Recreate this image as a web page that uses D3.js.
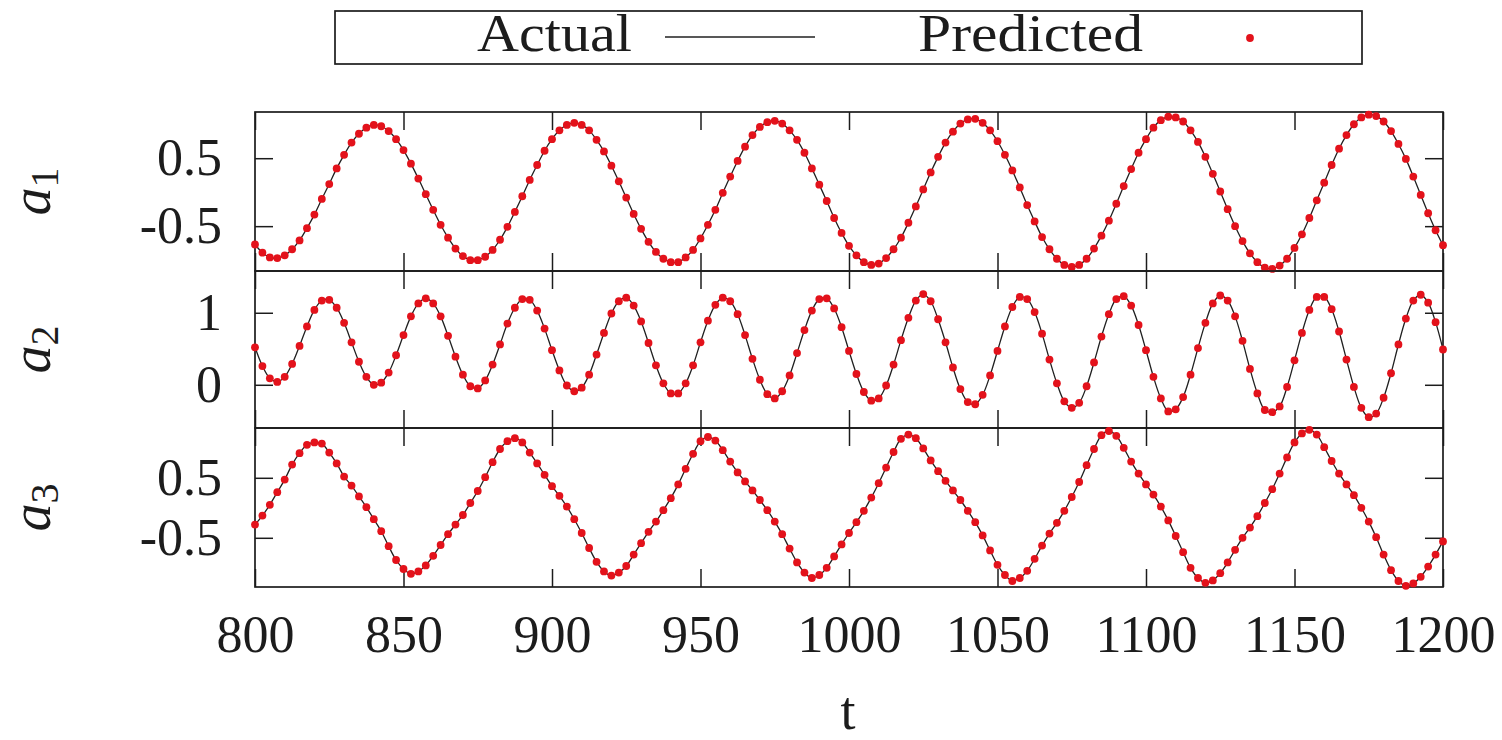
<!DOCTYPE html>
<html>
<head>
<meta charset="utf-8">
<script src="https://cdn.jsdelivr.net/npm/d3@7"></script>
<style>
  html, body { margin: 0; padding: 0; background: #ffffff; }
  svg { display: block; }
</style>
</head>
<body>
<svg id="chart" width="1502" height="740"></svg>
<script>
// Sampling of the three state variables: t = 800 ... 1200, every 2.5
const tStart = 800;
const tEnd = 1200;
const tStep = 2.5;

const xTickValues = [800, 850, 900, 950, 1000, 1050, 1100, 1150, 1200];

const a1Ticks = [-0.5, 0.5];
const a2Ticks = [0, 1];
const a3Ticks = [-0.5, 0.5];

const a1Values = [
  -0.77, -0.89, -0.96, -0.97, -0.93, -0.84, -0.71, -0.53, -0.33, -0.10,
   0.12,  0.35,  0.55,  0.73,  0.86,  0.95,  0.99,  0.97,  0.90,  0.78,
   0.62,  0.42,  0.20, -0.03, -0.26, -0.48, -0.67, -0.83, -0.94, -1.00,
  -1.00, -0.95, -0.85, -0.70, -0.51, -0.29, -0.06,  0.18,  0.40,  0.61,
   0.78,  0.91,  0.99,  1.02,  0.99,  0.91,  0.77,  0.60,  0.39,  0.16,
  -0.08, -0.32, -0.54, -0.73, -0.88, -0.98, -1.03, -1.03, -0.96, -0.85,
  -0.68, -0.48, -0.26, -0.01,  0.23,  0.46,  0.67,  0.84,  0.96,  1.03,
   1.05,  1.01,  0.91,  0.77,  0.58,  0.35,  0.11, -0.13, -0.38, -0.60,
  -0.79, -0.93, -1.03, -1.07, -1.05, -0.97, -0.84, -0.67, -0.45, -0.21,
   0.04,  0.29,  0.52,  0.73,  0.89,  1.01,  1.07,  1.08,  1.02,  0.91,
   0.75,  0.55,  0.32,  0.07, -0.19, -0.43, -0.66, -0.84, -0.98, -1.07,
  -1.10, -1.07, -0.98, -0.83, -0.64, -0.42, -0.17,  0.09,  0.34,  0.58,
   0.78,  0.95,  1.06,  1.11,  1.10,  1.04,  0.91,  0.74,  0.52,  0.27,
   0.01, -0.25, -0.50, -0.72, -0.90, -1.03, -1.11, -1.13, -1.08, -0.98,
  -0.82, -0.62, -0.38, -0.12,  0.14,  0.40,  0.64,  0.84,  1.00,  1.10,
   1.14,  1.12,  1.04,  0.90,  0.71,  0.49,  0.23, -0.04, -0.31, -0.56, -0.78
];

const a2Values = [
   0.52,  0.26,  0.09,  0.04,  0.11,  0.29,  0.54,  0.81,  1.04,  1.17,
   1.18,  1.07,  0.86,  0.59,  0.32,  0.11,  0.00,  0.03,  0.17,  0.41,
   0.69,  0.95,  1.13,  1.20,  1.13,  0.95,  0.68,  0.39,  0.14, -0.02,
  -0.05,  0.06,  0.28,  0.56,  0.85,  1.07,  1.19,  1.18,  1.03,  0.78,
   0.48,  0.20, -0.01, -0.09, -0.04,  0.14,  0.42,  0.72,  0.99,  1.16,
   1.21,  1.10,  0.88,  0.58,  0.27,  0.02, -0.12, -0.12,  0.02,  0.27,
   0.59,  0.89,  1.11,  1.21,  1.16,  0.98,  0.69,  0.36,  0.07, -0.13,
  -0.19, -0.09,  0.13,  0.44,  0.76,  1.03,  1.19,  1.20,  1.06,  0.80,
   0.47,  0.15, -0.10, -0.22, -0.19, -0.01,  0.28,  0.62,  0.93,  1.17,
   1.26,  1.16,  0.91,  0.59,  0.24, -0.06, -0.24, -0.27, -0.14,  0.13,
   0.47,  0.81,  1.08,  1.22,  1.19,  1.01,  0.71,  0.35,  0.02, -0.23,
  -0.32, -0.25, -0.02,  0.31,  0.67,  0.98,  1.19,  1.23,  1.10,  0.83,
   0.48,  0.11, -0.19, -0.37, -0.34, -0.17,  0.14,  0.51,  0.86,  1.13,
   1.24,  1.17,  0.95,  0.61,  0.22, -0.12, -0.35, -0.38, -0.30, -0.03,
   0.34,  0.72,  1.04,  1.22,  1.22,  1.05,  0.74,  0.35, -0.03, -0.32,
  -0.45, -0.40, -0.18,  0.16,  0.56,  0.92,  1.17,  1.25,  1.14,  0.87,  0.49
];

const a3Values = [
  -0.28, -0.13,  0.05,  0.26,  0.47,  0.72,  0.91,  1.05,  1.09,  1.07,
   0.92,  0.74,  0.52,  0.37,  0.19,  0.01, -0.19, -0.39, -0.64, -0.87,
  -1.02, -1.10, -1.06, -0.96, -0.80, -0.62, -0.44, -0.28, -0.12,  0.08,
   0.28,  0.51,  0.76,  0.98,  1.11,  1.16,  1.09,  0.92,  0.74,  0.55,
   0.36,  0.20,  0.02, -0.19, -0.42, -0.67, -0.90, -1.06, -1.13, -1.08,
  -0.97, -0.78, -0.59, -0.40, -0.23, -0.04,  0.16,  0.39,  0.65,  0.90,
   1.11,  1.18,  1.12,  0.96,  0.77,  0.59,  0.44,  0.29,  0.13, -0.04,
  -0.23, -0.44, -0.68, -0.91, -1.08, -1.17, -1.12, -1.00, -0.81, -0.61,
  -0.42, -0.24, -0.05,  0.17,  0.41,  0.67,  0.93,  1.15,  1.22,  1.16,
   0.99,  0.79,  0.61,  0.45,  0.29,  0.13, -0.05, -0.24, -0.46, -0.71,
  -0.95, -1.12, -1.22, -1.17, -1.05, -0.85, -0.63, -0.43, -0.25, -0.05,
   0.18,  0.43,  0.71,  0.98,  1.21,  1.28,  1.20,  1.00,  0.77,  0.57,
   0.39,  0.22,  0.02, -0.21, -0.47, -0.74, -1.00, -1.17, -1.25, -1.21,
  -1.09, -0.91, -0.70, -0.50, -0.33, -0.14,  0.08,  0.31,  0.57,  0.84,
   1.09,  1.24,  1.30,  1.22,  1.01,  0.78,  0.57,  0.39,  0.21,  0.00,
  -0.23, -0.49, -0.78, -1.04, -1.22, -1.30, -1.26, -1.15, -0.98, -0.78, -0.56
];

const seriesLabels = ["Actual", "Predicted"];

// ---- layout ----
const serif = '"Liberation Serif", "DejaVu Serif", serif';
const ink = "#1c1c1c";
const dotColor = "#e3121b";
const dotRadius = 3.9;
const plotLeft = 255, plotRight = 1443;
const panelEdges = [112, 271, 428, 587];
const tickLen = 18;

const panels = [
  { sub: "1", values: a1Values, domain: [-1.16, 1.18], ticks: a1Ticks },
  { sub: "2", values: a2Values, domain: [-0.60, 1.58], ticks: a2Ticks },
  { sub: "3", values: a3Values, domain: [-1.32, 1.33], ticks: a3Ticks }
];

const svg = d3.select("#chart");
svg.append("rect").attr("width", 1502).attr("height", 740).attr("fill", "#ffffff");

const x = d3.scaleLinear().domain([tStart, tEnd]).range([plotLeft, plotRight]);

function styleAxis(g, size) {
  g.attr("font-family", serif).attr("font-size", size);
  g.select(".domain").remove();
  g.selectAll(".tick line").attr("stroke", ink).attr("stroke-width", 1.5);
  g.selectAll(".tick text").attr("fill", ink);
}

panels.forEach((p, i) => {
  const top = panelEdges[i], bottom = panelEdges[i + 1];
  const y = d3.scaleLinear().domain(p.domain).range([bottom, top]);
  const times = p.values.map((_, k) => tStart + k * tStep);
  const pts = p.values.map((v, k) => [times[k], v]);
  const g = svg.append("g");

  // mirrored ticks on all four sides, pointing inward
  g.append("g").attr("transform", `translate(${plotLeft},0)`)
    .call(d3.axisLeft(y).tickValues(p.ticks).tickSize(-tickLen).tickPadding(33)
      .tickFormat(d => String(d)))
    .call(a => styleAxis(a, 52));
  g.append("g").attr("transform", `translate(${plotRight},0)`)
    .call(d3.axisRight(y).tickValues(p.ticks).tickSize(-tickLen).tickFormat(""))
    .call(a => styleAxis(a, 52));
  g.append("g").attr("transform", `translate(0,${top})`)
    .call(d3.axisTop(x).tickValues(xTickValues).tickSize(-tickLen).tickFormat(""))
    .call(a => styleAxis(a, 52));
  const bottomAxis = d3.axisBottom(x).tickValues(xTickValues).tickSize(-tickLen).tickPadding(28);
  if (i < panels.length - 1) bottomAxis.tickFormat("");
  else bottomAxis.tickFormat(d => String(d));
  g.append("g").attr("transform", `translate(0,${bottom})`)
    .call(bottomAxis)
    .call(a => styleAxis(a, 52));

  // panel border
  g.append("rect")
    .attr("x", plotLeft).attr("y", top)
    .attr("width", plotRight - plotLeft).attr("height", bottom - top)
    .attr("fill", "none").attr("stroke", ink).attr("stroke-width", 1.7);

  // actual trajectory
  const line = d3.line().x(d => x(d[0])).y(d => y(d[1])).curve(d3.curveCatmullRom.alpha(0.5));
  g.append("path").datum(pts)
    .attr("d", line).attr("fill", "none")
    .attr("stroke", "#202020").attr("stroke-width", 1.3);

  // predicted samples
  g.append("g").selectAll("circle").data(pts).join("circle")
    .attr("cx", d => x(d[0])).attr("cy", d => y(d[1]))
    .attr("r", dotRadius).attr("fill", dotColor);

  // rotated y label a_i
  const lab = svg.append("text")
    .attr("transform", `translate(50,${(top + bottom) / 2}) rotate(-90)`)
    .attr("text-anchor", "middle")
    .attr("font-family", serif).attr("fill", ink);
  lab.append("tspan").attr("font-size", 56).attr("font-style", "italic").text("a");
  lab.append("tspan").attr("font-size", 40).attr("dy", 8).text(p.sub);
});

// x axis title
svg.append("text")
  .attr("x", 848).attr("y", 729)
  .attr("text-anchor", "middle")
  .attr("font-family", serif).attr("font-size", 54).attr("fill", ink)
  .text("t");

// legend
const legend = svg.append("g");
legend.append("rect")
  .attr("x", 335).attr("y", 11).attr("width", 1027).attr("height", 53)
  .attr("fill", "#ffffff").attr("stroke", ink).attr("stroke-width", 1.7);
legend.append("text")
  .attr("x", 477).attr("y", 51)
  .attr("font-family", serif).attr("font-size", 52).attr("fill", ink)
  .attr("textLength", 155).attr("lengthAdjust", "spacingAndGlyphs")
  .text(seriesLabels[0]);
legend.append("line")
  .attr("x1", 665).attr("x2", 815).attr("y1", 37).attr("y2", 37)
  .attr("stroke", "#202020").attr("stroke-width", 1.6);
legend.append("text")
  .attr("x", 918).attr("y", 51)
  .attr("font-family", serif).attr("font-size", 52).attr("fill", ink)
  .attr("textLength", 225).attr("lengthAdjust", "spacingAndGlyphs")
  .text(seriesLabels[1]);
legend.append("circle")
  .attr("cx", 1250).attr("cy", 38).attr("r", dotRadius).attr("fill", dotColor);
</script>
</body>
</html>
